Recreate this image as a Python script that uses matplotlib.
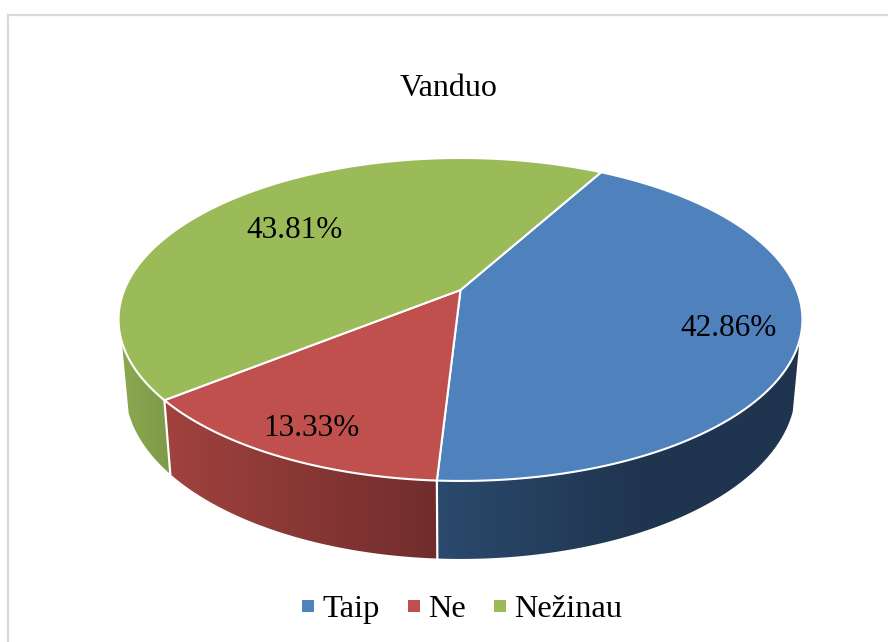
import numpy as np
import matplotlib
matplotlib.use("Agg")
import matplotlib.pyplot as plt
from matplotlib.colors import LinearSegmentedColormap
from matplotlib.lines import Line2D
from matplotlib.patches import Polygon

title = "Vanduo"
categories = ["Taip", "Ne", "Nežinau"]
values = [42.86, 13.33, 43.81]
labels = ["42.86%", "13.33%", "43.81%"]

colors = ["#4f81bd", "#c0504d", "#9bbb59"]
# wall gradient: (left x, colour) -> (right x, colour)
wall_grad = [
    (437, "#2b4a6d", 650, "#1f344e"),
    (163, "#a1423e", 437, "#702d2c"),
    (120, "#8ca850", 170, "#7e9a48"),
]
label_pos = [(729, 329), (311, 428), (295, 231)]

plt.rcParams["font.family"] = ["Liberation Serif", "DejaVu Serif"]

# picture of the tilted disc, in pixels of the figure
cx, apex_y = 460.5, 290.0
A, B, k = 336.2, 156.1, 0.1825
start_angle = 61.0


def top_xy(theta):
    u, v = np.cos(np.radians(theta)), np.sin(np.radians(theta))
    d = 1 + k * v
    return cx + A * u / d, apex_y - B * v / d


def low_xy(theta):
    x, y = top_xy(theta)
    return cx + 0.98 * (x - cx), 559 - 1.05 * (481 - y)


fig = plt.figure(figsize=(8.88, 6.42), dpi=100)
ax = fig.add_axes([0, 0, 1, 1])

# frame of the chart
ax.plot([7.5, 7.5, 888], [642, 14.5, 14.5], color="#d9d9d9", lw=1.6, solid_joinstyle="miter")

# slice angles, clockwise from the start
angles = start_angle - np.cumsum([0] + values) / sum(values) * 360

# walls first, a horizontal gradient clipped to each wall
wall_limit = 340
for i in range(len(values)):
    th = np.linspace(angles[i], angles[i + 1], 240)
    _, ty = top_xy(th)
    th = th[ty >= wall_limit]
    tx, ty = top_xy(th)
    lx, ly = low_xy(th)
    x0, c0, x1, c1 = wall_grad[i]
    cmap = LinearSegmentedColormap.from_list("wall%d" % i, [c0, c1])
    poly = Polygon(np.c_[np.r_[tx, lx[::-1]], np.r_[ty, ly[::-1]]], closed=True,
                   facecolor="none", edgecolor="none", transform=ax.transData)
    ax.add_patch(poly)
    im = ax.imshow(np.linspace(0, 1, 256)[None, :], cmap=cmap, aspect="auto",
                   extent=(x0, x1, 642, 0), interpolation="bilinear")
    # past the end of the gradient the last colour goes on
    im2 = ax.imshow([[1.0]], cmap=cmap, vmin=0, vmax=1, aspect="auto", extent=(x1, 888, 642, 0))
    im.set_clip_path(poly)
    im2.set_clip_path(poly)

# white seams between the walls
for a in angles[1:3]:
    tx, ty = top_xy(a)
    lx, ly = low_xy(a)
    ax.plot([tx, lx], [ty, ly], color="white", lw=1.6)

# top of the pie
for i in range(len(values)):
    th = np.linspace(angles[i], angles[i + 1], 240)
    tx, ty = top_xy(th)
    ax.fill(np.r_[cx, tx], np.r_[apex_y, ty], facecolor=colors[i], edgecolor="white", lw=1.5,
            joinstyle="round")

for lab, (x, y) in zip(labels, label_pos):
    ax.text(x, y, lab, ha="center", va="center", fontsize=22.5, color="black")

ax.text(449, 88, title, ha="center", va="center", fontsize=23, color="black")

handles = [Line2D([], [], linestyle="none", marker="s", markersize=8, color=c, markeredgewidth=0)
           for c in colors]
ax.legend(handles, categories, ncol=3, loc="center", bbox_to_anchor=(462.5, 609),
          bbox_transform=ax.transData, frameon=False, fontsize=23.4, handlelength=0.35,
          handletextpad=0.27, columnspacing=0.86, borderpad=0, borderaxespad=0)

ax.set_xlim(0, 888)
ax.set_ylim(642, 0)
ax.axis("off")

plt.savefig("out.png", dpi=100)
